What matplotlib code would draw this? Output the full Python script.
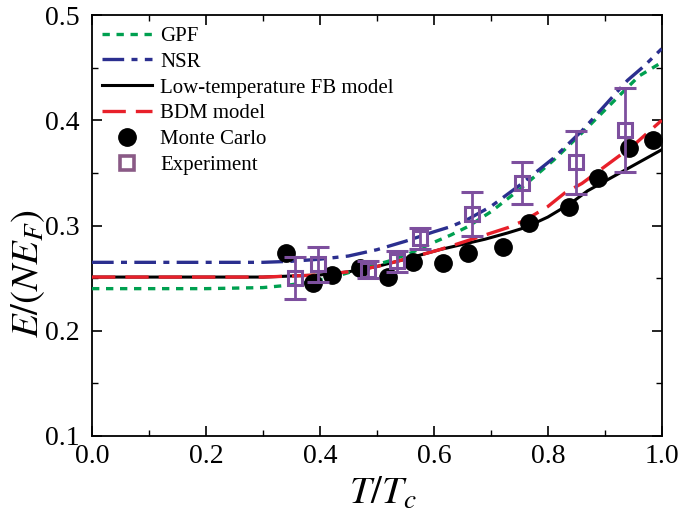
import matplotlib
matplotlib.use("Agg")
import matplotlib.pyplot as plt
from matplotlib.ticker import MultipleLocator
from matplotlib.lines import Line2D

plt.rcParams['font.family'] = ['Liberation Serif', 'DejaVu Serif']
plt.rcParams['mathtext.fontset'] = 'stix'

# Curves
gpf_x = [0.0, 0.1, 0.2, 0.3, 0.34, 0.38, 0.43, 0.48, 0.52, 0.56, 0.6, 0.63, 0.66, 0.7, 0.75, 0.81, 0.86, 0.91, 0.96, 1.0]
gpf_y = [0.240, 0.240, 0.240, 0.241, 0.243, 0.246, 0.252, 0.260, 0.266, 0.274, 0.284, 0.291, 0.299, 0.313, 0.334, 0.362, 0.388, 0.415, 0.442, 0.455]

nsr_x = [0.0, 0.1, 0.2, 0.3, 0.35, 0.4, 0.45, 0.5, 0.55, 0.6, 0.63, 0.66, 0.7, 0.75, 0.81, 0.86, 0.91, 0.94, 0.97, 1.0]
nsr_y = [0.265, 0.265, 0.265, 0.265, 0.266, 0.268, 0.271, 0.277, 0.285, 0.294, 0.299, 0.306, 0.318, 0.338, 0.364, 0.390, 0.420, 0.438, 0.452, 0.468]

fb_x = [0.0, 0.1, 0.2, 0.3, 0.35, 0.4, 0.45, 0.5, 0.55, 0.61, 0.65, 0.69, 0.73, 0.76, 0.8, 0.84, 0.87, 0.91, 0.95, 1.0]
fb_y = [0.251, 0.251, 0.251, 0.251, 0.252, 0.253, 0.256, 0.261, 0.268, 0.277, 0.282, 0.287, 0.293, 0.298, 0.308, 0.321, 0.333, 0.345, 0.357, 0.372]

bdm_x = [0.0, 0.1, 0.2, 0.3, 0.35, 0.4, 0.45, 0.5, 0.55, 0.61, 0.65, 0.69, 0.73, 0.76, 0.8, 0.83, 0.86, 0.9, 0.95, 1.0]
bdm_y = [0.251, 0.251, 0.251, 0.251, 0.252, 0.253, 0.256, 0.261, 0.268, 0.277, 0.284, 0.291, 0.298, 0.305, 0.318, 0.331, 0.340, 0.356, 0.376, 0.400]

# Monte Carlo
mc_x = [0.340, 0.388, 0.421, 0.470, 0.519, 0.563, 0.616, 0.660, 0.721, 0.767, 0.837, 0.888, 0.943, 0.984]
mc_y = [0.274, 0.245, 0.253, 0.260, 0.251, 0.265, 0.264, 0.274, 0.280, 0.302, 0.318, 0.345, 0.374, 0.381]

# Experiment
ex_x = [0.356, 0.396, 0.484, 0.535, 0.575, 0.667, 0.755, 0.849, 0.935]
ex_y = [0.250, 0.263, 0.258, 0.266, 0.288, 0.311, 0.340, 0.360, 0.391]
ex_err = [0.020, 0.017, 0.008, 0.010, 0.010, 0.021, 0.020, 0.030, 0.040]

legend_labels = ['GPF', 'NSR', 'Low-temperature FB model', 'BDM model', 'Monte Carlo', 'Experiment']

fig = plt.figure(figsize=(6.78, 5.19), dpi=100)
ax = fig.add_axes([0.1357, 0.160, 0.8403, 0.811])

green = '#00A050'
blue = '#2B2F8F'
red = '#E8202A'
purple = '#7D4F9E'

h1, = ax.plot(gpf_x, gpf_y, color=green, lw=2.4, dashes=(2.2, 2.0), zorder=3)
h2, = ax.plot(nsr_x, nsr_y, color=blue, lw=2.4, dashes=(6.5, 2.2, 1.8, 2.2), zorder=3)
h3, = ax.plot(fb_x, fb_y, color='black', lw=2.2, zorder=2)
h4, = ax.plot(bdm_x, bdm_y, color=red, lw=2.4, dashes=(7, 3), zorder=3)
h5, = ax.plot(mc_x, mc_y, 'o', color='black', ms=12.5, lw=0, zorder=4)
ax.errorbar(ex_x, ex_y, yerr=ex_err, fmt='s', mfc='none', mec=purple, mew=2.2, ms=10,
            ecolor=purple, elinewidth=2.0, capsize=8, capthick=2.0, zorder=5)
h6 = Line2D([], [], ls='none', marker='s', mfc='none', mec='#8A5A86', mew=2.6, ms=10)

ax.set_xlim(0, 1.0)
ax.set_ylim(0.1, 0.5)
ax.xaxis.set_major_locator(MultipleLocator(0.2))
ax.xaxis.set_minor_locator(MultipleLocator(0.1))
ax.yaxis.set_major_locator(MultipleLocator(0.1))
ax.yaxis.set_minor_locator(MultipleLocator(0.05))
ax.tick_params(which='both', direction='in', top=True, right=True, labelsize=20)
ax.tick_params(axis='x', which='major', pad=6)
ax.tick_params(axis='y', which='major', pad=9)
ax.tick_params(which='major', length=7, width=1.2)
ax.tick_params(which='minor', length=4, width=1.0)
for s in ax.spines.values():
    s.set_linewidth(1.3)

ax.set_xlabel(r'$T/T_c$', fontsize=28)
ax.xaxis.set_label_coords(0.51, -0.095)
ax.set_ylabel(r'$E/(NE_F)$', fontsize=28)
ax.yaxis.set_label_coords(-0.078, 0.385)

leg = ax.legend([h1, h2, h3, h4, h5, h6], legend_labels, loc='upper left',
                bbox_to_anchor=(0.003, 0.993), frameon=False,
                fontsize=15, handlelength=2.4, handletextpad=0.4, labelspacing=0.3,
                borderaxespad=0.1, borderpad=0.3)

fig.savefig('out.png', dpi=100)
